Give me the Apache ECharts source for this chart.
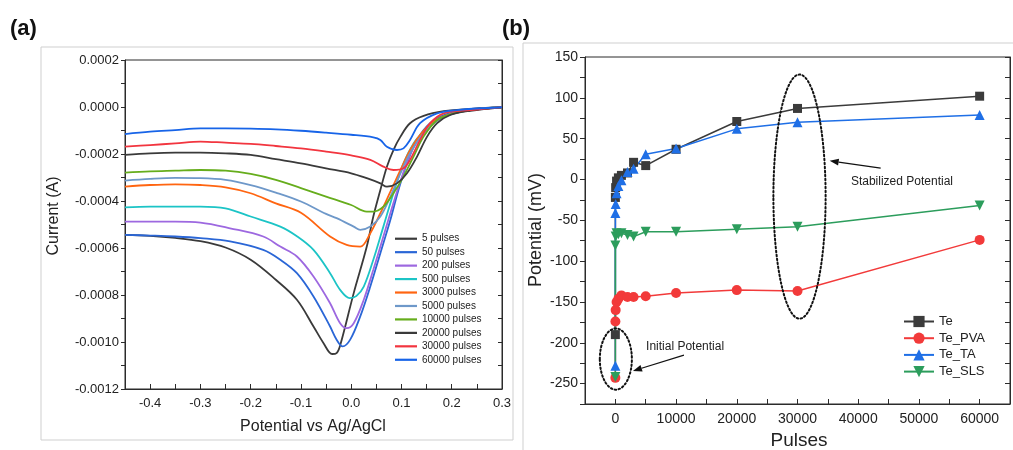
<!DOCTYPE html>
<html>
<head>
<meta charset="utf-8">
<script src="https://cdn.jsdelivr.net/npm/echarts@6/dist/echarts.min.js"></script>
<style>
  html, body { margin: 0; padding: 0; background: #fff; }
  #c { width: 1013px; height: 450px; }
</style>
</head>
<body>
<div id="c"></div>
<script>
// ---------- (a) Linear sweep voltammograms: [potential (V vs Ag/AgCl), current (A)] ----------
const lsv5 = [[-0.45,-5.44e-4],[-0.40,-5.48e-4],[-0.35,-5.57e-4],[-0.30,-5.71e-4],[-0.25,-5.98e-4],[-0.20,-6.50e-4],[-0.15,-7.35e-4],[-0.108,-8.20e-4],[-0.075,-9.34e-4],[-0.055,-10.05e-4],[-0.038,-10.51e-4],[-0.029,-10.47e-4],[-0.022,-10.15e-4],[0.005,-7.92e-4],[0.031,-5.94e-4],[0.044,-4.66e-4],[0.058,-3.53e-4],[0.071,-2.54e-4],[0.084,-1.83e-4],[0.098,-1.26e-4],[0.117,-0.69e-4],[0.144,-0.38e-4],[0.184,-0.18e-4],[0.244,-0.07e-4],[0.30,-0.01e-4]];
const lsv50 = [[-0.45,-5.44e-4],[-0.40,-5.47e-4],[-0.35,-5.51e-4],[-0.30,-5.58e-4],[-0.241,-5.72e-4],[-0.175,-6.08e-4],[-0.141,-6.50e-4],[-0.108,-7.07e-4],[-0.075,-8.06e-4],[-0.042,-9.34e-4],[-0.029,-9.90e-4],[-0.017,-10.19e-4],[-0.002,-9.90e-4],[0.018,-8.91e-4],[0.038,-7.64e-4],[0.058,-6.22e-4],[0.078,-4.80e-4],[0.094,-3.53e-4],[0.111,-2.40e-4],[0.131,-1.40e-4],[0.157,-0.69e-4],[0.19,-0.30e-4],[0.244,-0.10e-4],[0.30,-0.01e-4]];
const lsv200 = [[-0.45,-4.88e-4],[-0.40,-4.88e-4],[-0.35,-4.88e-4],[-0.30,-4.92e-4],[-0.241,-5.16e-4],[-0.175,-5.51e-4],[-0.141,-5.94e-4],[-0.108,-6.36e-4],[-0.075,-7.21e-4],[-0.042,-8.35e-4],[-0.022,-9.20e-4],[-0.009,-9.41e-4],[0.005,-9.20e-4],[0.025,-8.20e-4],[0.044,-6.93e-4],[0.064,-5.51e-4],[0.084,-4.09e-4],[0.101,-2.96e-4],[0.117,-2.04e-4],[0.137,-1.26e-4],[0.164,-0.67e-4],[0.197,-0.31e-4],[0.25,-0.10e-4],[0.30,-0.01e-4]];
const lsv500 = [[-0.45,-4.27e-4],[-0.40,-4.24e-4],[-0.35,-4.24e-4],[-0.30,-4.24e-4],[-0.25,-4.31e-4],[-0.20,-4.66e-4],[-0.141,-5.09e-4],[-0.108,-5.50e-4],[-0.075,-6.08e-4],[-0.042,-7.07e-4],[-0.022,-7.78e-4],[-0.003,-8.13e-4],[0.010,-8.05e-4],[0.025,-7.64e-4],[0.044,-6.50e-4],[0.064,-5.09e-4],[0.084,-3.67e-4],[0.104,-2.40e-4],[0.124,-1.55e-4],[0.144,-1.05e-4],[0.171,-0.55e-4],[0.204,-0.27e-4],[0.25,-0.10e-4],[0.30,-0.01e-4]];
const lsv3000 = [[-0.45,-3.39e-4],[-0.40,-3.32e-4],[-0.35,-3.29e-4],[-0.30,-3.32e-4],[-0.25,-3.42e-4],[-0.20,-3.67e-4],[-0.15,-4.10e-4],[-0.10,-4.50e-4],[-0.042,-5.51e-4],[-0.009,-5.87e-4],[0.018,-5.94e-4],[0.038,-5.37e-4],[0.058,-4.52e-4],[0.078,-3.60e-4],[0.098,-2.68e-4],[0.117,-1.84e-4],[0.137,-1.19e-4],[0.164,-0.62e-4],[0.197,-0.30e-4],[0.25,-0.10e-4],[0.30,-0.01e-4]];
const lsv5000 = [[-0.45,-3.13e-4],[-0.40,-3.06e-4],[-0.35,-3.02e-4],[-0.30,-3.03e-4],[-0.25,-3.10e-4],[-0.20,-3.32e-4],[-0.15,-3.64e-4],[-0.10,-4.02e-4],[-0.05,-4.55e-4],[-0.029,-4.73e-4],[0.005,-5.09e-4],[0.018,-5.23e-4],[0.038,-5.09e-4],[0.058,-4.66e-4],[0.078,-3.81e-4],[0.098,-2.82e-4],[0.117,-1.97e-4],[0.144,-1.12e-4],[0.171,-0.58e-4],[0.204,-0.27e-4],[0.25,-0.10e-4],[0.30,-0.01e-4]];
const lsv10000 = [[-0.45,-2.79e-4],[-0.40,-2.74e-4],[-0.35,-2.71e-4],[-0.30,-2.68e-4],[-0.25,-2.71e-4],[-0.20,-2.85e-4],[-0.15,-3.10e-4],[-0.10,-3.45e-4],[-0.05,-3.81e-4],[0.0,-4.17e-4],[0.031,-4.45e-4],[0.044,-4.45e-4],[0.064,-4.24e-4],[0.084,-3.67e-4],[0.104,-2.96e-4],[0.124,-2.11e-4],[0.144,-1.26e-4],[0.171,-0.55e-4],[0.204,-0.27e-4],[0.25,-0.10e-4],[0.30,-0.01e-4]];
const lsv20000 = [[-0.45,-2.04e-4],[-0.40,-1.97e-4],[-0.35,-1.94e-4],[-0.30,-1.94e-4],[-0.25,-1.97e-4],[-0.20,-2.04e-4],[-0.15,-2.22e-4],[-0.10,-2.40e-4],[-0.05,-2.61e-4],[0.0,-2.82e-4],[0.031,-3.03e-4],[0.058,-3.25e-4],[0.071,-3.39e-4],[0.091,-3.25e-4],[0.111,-2.82e-4],[0.131,-2.11e-4],[0.151,-1.26e-4],[0.171,-0.69e-4],[0.197,-0.34e-4],[0.237,-0.16e-4],[0.30,-0.01e-4]];
const lsv30000 = [[-0.45,-1.69e-4],[-0.40,-1.62e-4],[-0.35,-1.55e-4],[-0.30,-1.47e-4],[-0.25,-1.52e-4],[-0.20,-1.57e-4],[-0.15,-1.66e-4],[-0.10,-1.76e-4],[-0.05,-1.90e-4],[0.0,-2.06e-4],[0.038,-2.25e-4],[0.064,-2.54e-4],[0.084,-2.68e-4],[0.104,-2.61e-4],[0.117,-2.25e-4],[0.137,-1.40e-4],[0.157,-0.69e-4],[0.184,-0.27e-4],[0.237,-0.13e-4],[0.30,-0.01e-4]];
const lsv60000 = [[-0.45,-1.15e-4],[-0.40,-1.05e-4],[-0.35,-0.98e-4],[-0.30,-0.91e-4],[-0.25,-0.91e-4],[-0.20,-0.92e-4],[-0.15,-0.95e-4],[-0.10,-1.01e-4],[-0.05,-1.09e-4],[0.0,-1.18e-4],[0.044,-1.29e-4],[0.058,-1.40e-4],[0.071,-1.69e-4],[0.091,-1.83e-4],[0.104,-1.76e-4],[0.117,-1.40e-4],[0.137,-0.69e-4],[0.171,-0.27e-4],[0.21,-0.13e-4],[0.30,-0.01e-4]];

const lsvNames = ['5 pulses','50 pulses','200 pulses','500 pulses','3000 pulses','5000 pulses','10000 pulses','20000 pulses','30000 pulses','60000 pulses'];
const lsvCurves = [lsv5, lsv50, lsv200, lsv500, lsv3000, lsv5000, lsv10000, lsv20000, lsv30000, lsv60000];

// ---------- (b) Potential (mV) against number of pulses ----------
const pulses = [0, 5, 50, 200, 500, 1000, 2000, 3000, 5000, 10000, 20000, 30000, 60000];
const te    = [-190, -22, -10, -2, 2, 5, 8, 21, 17, 37, 71, 87, 102];
const tePVA = [-243, -174, -160, -150, -146, -142, -144, -144, -143, -139, -135.5, -136.5, -74];
const teTA  = [-228, -41, -30, -17, -8, -1, 9, 13, 31, 38, 62, 70, 79];
const teSLS = [-242, -81, -70, -66, -67, -66, -68, -70, -64, -64, -61, -58, -32];
const potNames = ['Te', 'Te_PVA', 'Te_TA', 'Te_SLS'];

// ---------- styling ----------
const FONT = '"Liberation Sans", Arial, Helvetica, sans-serif';
const INK = '#2b2b2b';
const lsvColors = ['#3a3a3a','#2a66d6','#9d68e0','#1cc4c6','#ff6511','#6e98c9','#66ad1c','#3a3a3a','#f2353f','#1764e8'];
const potColors = ['#3b3b3b', '#f23a3a', '#1f6fe6', '#2c9d5c'];
const potSymbols = ['rect', 'circle', 'triangle', 'triangle'];
const potRotate = [0, 0, 0, 180];

const pair = (xs, ys) => xs.map((x, i) => [x, ys[i]]);

const chart = echarts.init(document.getElementById('c'), null, { renderer: 'canvas' });

const lineAxis = { show: true, onZero: false, lineStyle: { color: INK, width: 1 } };
const lbl = (size, fmt) => ({ color: '#222', fontSize: size, fontFamily: FONT, formatter: fmt });

const option = {
  animation: false,
  textStyle: { fontFamily: FONT },
  grid: [
    { left: 125, top: 60, width: 377, height: 329, show: true, borderColor: INK, borderWidth: 1 },
    { left: 585, top: 57, width: 427, height: 347, show: true, borderColor: INK, borderWidth: 1 }
  ],
  xAxis: [
    {
      gridIndex: 0, type: 'value', min: -0.45, max: 0.3, interval: 0.05,
      axisLine: lineAxis,
      axisTick: { inside: true, length: 5, lineStyle: { color: INK } },
      axisLabel: Object.assign(lbl(13, v => (Math.round(v / 0.05) % 2 === 0 ? v.toFixed(1) : '')), { margin: 8 }),
      splitLine: { show: false }
    },
    {
      gridIndex: 1, type: 'value', min: -5000, max: 65000, interval: 5000,
      axisLine: lineAxis,
      axisTick: { inside: true, length: 5, lineStyle: { color: INK } },
      axisLabel: Object.assign(lbl(14, v => (v % 10000 === 0 ? String(v) : '')), { margin: 8 }),
      splitLine: { show: false }
    }
  ],
  yAxis: [
    {
      gridIndex: 0, type: 'value', min: -0.0012, max: 0.0002, interval: 0.0001, position: 'left',
      axisLine: lineAxis,
      axisTick: { inside: false, length: 4, lineStyle: { color: INK } },
      axisLabel: Object.assign(lbl(13, v => (Math.round(v / 0.0001) % 2 === 0 ? v.toFixed(4) : '')), { margin: 6 }),
      splitLine: { show: false }
    },
    {
      gridIndex: 0, type: 'value', min: -0.0012, max: 0.0002, interval: 0.0001, position: 'right',
      axisLine: lineAxis,
      axisTick: { inside: true, length: 4, lineStyle: { color: INK } },
      axisLabel: { show: false }, splitLine: { show: false }
    },
    {
      gridIndex: 1, type: 'value', min: -275, max: 150, interval: 25, position: 'left',
      axisLine: lineAxis,
      axisTick: { inside: false, length: 5, lineStyle: { color: INK } },
      axisLabel: Object.assign(lbl(14, v => (v % 50 === 0 ? String(v) : '')), { margin: 7 }),
      splitLine: { show: false }
    },
    {
      gridIndex: 1, type: 'value', min: -275, max: 150, interval: 25, position: 'right',
      axisLine: lineAxis,
      axisTick: { inside: true, length: 5, lineStyle: { color: INK } },
      axisLabel: { show: false }, splitLine: { show: false }
    }
  ],
  legend: [
    {
      data: lsvNames, orient: 'vertical', left: 395, top: 232, padding: 0,
      icon: 'rect', itemWidth: 22, itemHeight: 2.2, itemGap: 0, itemTextGap: 3,
      selectedMode: false,
      textStyle: { fontSize: 10, lineHeight: 13.45, color: '#222', fontFamily: FONT }
    },
    {
      data: potNames, orient: 'vertical', left: 903, top: 315, padding: 0,
      itemWidth: 30, itemHeight: 14, itemGap: 3.7, itemTextGap: 3,
      selectedMode: false,
      textStyle: { fontSize: 13, color: '#222', fontFamily: FONT }
    }
  ],
  series: [
    ...lsvCurves.map((d, i) => ({
      name: lsvNames[i], type: 'line', xAxisIndex: 0, yAxisIndex: 0,
      data: d, symbol: 'none', smooth: 0.35,
      lineStyle: { color: lsvColors[i], width: 1.8 },
      itemStyle: { color: lsvColors[i] }
    })),
    ...[te, tePVA, teTA, teSLS].map((ys, i) => ({
      name: potNames[i], type: 'line', xAxisIndex: 1, yAxisIndex: 2,
      data: pair(pulses, ys),
      symbol: potSymbols[i], symbolRotate: potRotate[i],
      symbolSize: i === 0 ? 9 : 10,
      lineStyle: { color: potColors[i], width: 1.5 },
      itemStyle: { color: potColors[i] }
    }))
  ]
};

chart.setOption(option);

// ---------- frames, titles and annotations ----------
const toB = p => chart.convertToPixel({ xAxisIndex: 1, yAxisIndex: 2 }, p);

function dottedEllipse(center, xHalf, yHalf) {
  const c = toB(center);
  const e = toB([center[0] + xHalf, center[1] + yHalf]);
  return {
    type: 'ellipse', z: 20,
    shape: { cx: c[0], cy: c[1], rx: Math.abs(e[0] - c[0]), ry: Math.abs(e[1] - c[1]) },
    style: { fill: 'none', stroke: '#111', lineWidth: 2, lineDash: [1.6, 2.4], lineCap: 'round' }
  };
}

function arrow(from, to) {
  const a = toB(from), b = toB(to);
  const dx = b[0] - a[0], dy = b[1] - a[1];
  const L = Math.hypot(dx, dy), ux = dx / L, uy = dy / L;
  const hl = 9, hw = 3.5;
  const bx = b[0] - ux * hl, by = b[1] - uy * hl;
  return [
    { type: 'line', z: 20, shape: { x1: a[0], y1: a[1], x2: bx, y2: by }, style: { stroke: '#111', lineWidth: 1.3 } },
    { type: 'polygon', z: 20, shape: { points: [[b[0], b[1]], [bx - uy * hw, by + ux * hw], [bx + uy * hw, by - ux * hw]] }, style: { fill: '#111' } }
  ];
}

function note(text, at) {
  const p = toB(at);
  return { type: 'text', z: 20, x: p[0], y: p[1], style: { text, fill: '#222', font: '12px ' + FONT, verticalAlign: 'middle', align: 'left' } };
}

const graphics = [
  { type: 'rect', z: -5, shape: { x: 41, y: 47, width: 472, height: 393 }, style: { fill: 'none', stroke: '#cfcfcf', lineWidth: 1 } },
  { type: 'rect', z: -5, shape: { x: 523, y: 43, width: 520, height: 430 }, style: { fill: 'none', stroke: '#cfcfcf', lineWidth: 1 } },
  { type: 'text', x: 10, y: 29, style: { text: '(a)', fill: '#111', font: 'bold 22px ' + FONT, verticalAlign: 'middle' } },
  { type: 'text', x: 502, y: 29, style: { text: '(b)', fill: '#111', font: 'bold 22px ' + FONT, verticalAlign: 'middle' } },
  { type: 'text', x: 54, y: 216, rotation: Math.PI / 2, style: { text: 'Current (A)', fill: '#222', font: '16px ' + FONT, align: 'center', verticalAlign: 'middle' } },
  { type: 'text', x: 313, y: 427, style: { text: 'Potential vs Ag/AgCl', fill: '#222', font: '16px ' + FONT, align: 'center', verticalAlign: 'middle' } },
  { type: 'text', x: 536, y: 230, rotation: Math.PI / 2, style: { text: 'Potential (mV)', fill: '#222', font: '18px ' + FONT, align: 'center', verticalAlign: 'middle' } },
  { type: 'text', x: 799, y: 441, style: { text: 'Pulses', fill: '#222', font: '19px ' + FONT, align: 'center', verticalAlign: 'middle' } },
  dottedEllipse([30330, -21], 4300, 149.5),
  dottedEllipse([80, -220], 2640, 37.5),
  ...arrow([43700, 13.8], [35300, 22.8]),
  ...arrow([11300, -215], [2900, -234.5]),
  note('Stabilized Potential', [38800, -2.6]),
  note('Initial Potential', [5060, -205])
];

chart.setOption({ graphic: graphics });
</script>
</body>
</html>
